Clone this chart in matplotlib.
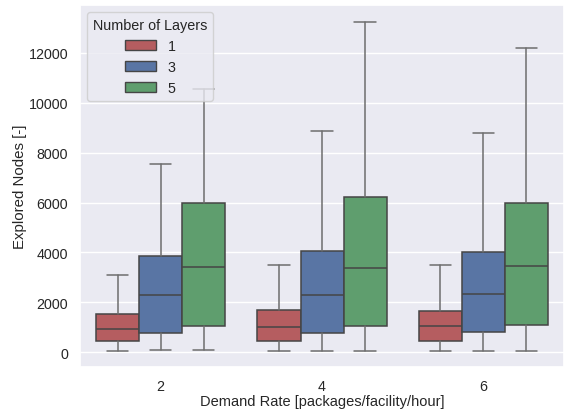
import matplotlib
matplotlib.use('Agg')
import matplotlib.pyplot as plt
import matplotlib.patches as mpatches
import seaborn as sns

sns.set_theme(style='darkgrid')
plt.rcParams['font.family'] = ['Liberation Sans', 'DejaVu Sans']

# box statistics, per demand rate
demand_rates = ['2', '4', '6']
layers = ['1', '3', '5']
colors = ['#c44e52', '#4c72b0', '#55a868']

whislo = {'1': [55, 55, 55], '3': [80, 55, 55], '5': [80, 55, 55]}
q1 = {'1': [450, 430, 450], '3': [770, 770, 810], '5': [1050, 1065, 1100]}
med = {'1': [945, 1025, 1065], '3': [2300, 2280, 2345], '5': [3410, 3385, 3450]}
q3 = {'1': [1520, 1690, 1650], '3': [3865, 4065, 4000], '5': [5985, 6210, 5985]}
whishi = {'1': [3090, 3490, 3490], '3': [7530, 8860, 8770], '5': [10550, 13250, 12190]}

fig = plt.figure(figsize=(5.71, 4.14), dpi=100)
ax = fig.add_axes([0.140, 0.111, 0.848, 0.875])

width = 0.8 / len(layers)
line_c = '#454545'
for j, lay in enumerate(layers):
    stats = []
    for i in range(len(demand_rates)):
        stats.append(dict(med=med[lay][i], q1=q1[lay][i], q3=q3[lay][i],
                          whislo=whislo[lay][i], whishi=whishi[lay][i], fliers=[]))
    pos = [i - 0.4 + width * (j + 0.5) for i in range(len(demand_rates))]
    fc = sns.desaturate(colors[j], 0.75)
    ax.bxp(stats, positions=pos, widths=width, capwidths=width / 2,
           patch_artist=True, showfliers=False, manage_ticks=False,
           boxprops=dict(facecolor=fc, edgecolor=line_c, linewidth=1.1),
           medianprops=dict(color=line_c, linewidth=1.1),
           whiskerprops=dict(color='#6e6e6e', linewidth=1.1),
           capprops=dict(color='#6e6e6e', linewidth=1.1))

ax.set_xlim(-0.5, len(demand_rates) - 0.5)
ax.set_xticks(range(len(demand_rates)))
ax.set_xticklabels(demand_rates)
ax.set_ylim(-600, 13930)
ax.set_yticks(range(0, 12001, 2000))
ax.tick_params(labelsize=10.3, colors='#262626', pad=2.5)
ax.set_xlabel('Demand Rate [packages/facility/hour]', fontsize=10.5, color='#262626', labelpad=1)
ax.set_ylabel('Explored Nodes [-]', fontsize=10.8, color='#262626', labelpad=1)
ax.grid(axis='x', visible=False)

handles = [mpatches.Patch(facecolor=sns.desaturate(c, 0.75), edgecolor=line_c, label=l)
           for c, l in zip(colors, layers)]
ax.legend(handles=handles, title='Number of Layers', loc='upper left',
          fontsize=10.3, title_fontsize=10.4, handlelength=2.2)

fig.savefig('out.png', dpi=100)
